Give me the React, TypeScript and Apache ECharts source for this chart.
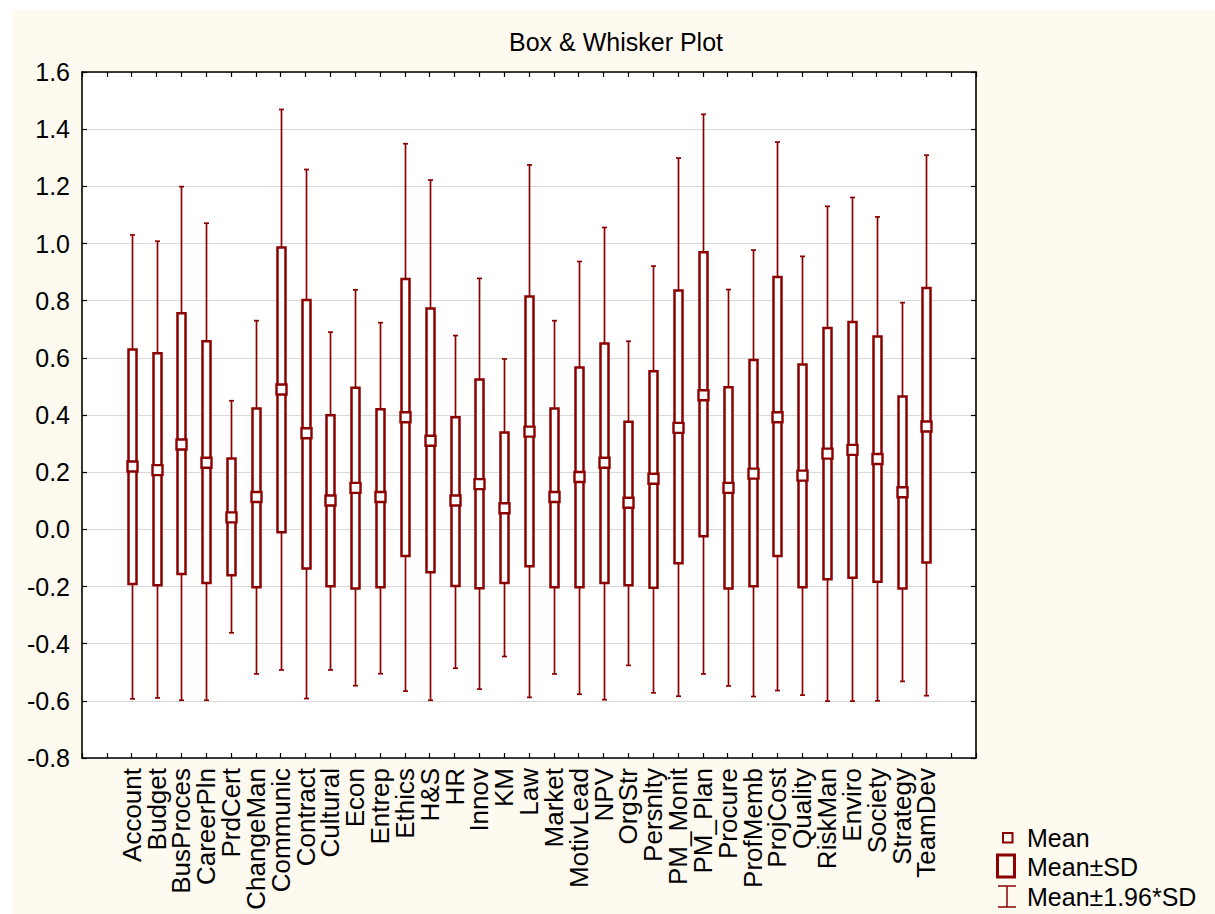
import React, { useEffect, useRef } from "react";
import * as echarts from "echarts";

const categories = [
  "Account", "Budget", "BusProces", "CareerPln", "PrdCert", "ChangeMan", "Communic",
  "Contract", "Cultural", "Econ", "Entrep", "Ethics", "H&S", "HR", "Innov", "KM", "Law",
  "Market", "MotivLead", "NPV", "OrgStr", "Persnlty", "PM_Monit", "PM_Plan", "Procure",
  "ProfMemb", "ProjCost", "Quality", "RiskMan", "Enviro", "Society", "Strategy", "TeamDev",
];

const whiskerHigh = [
  1.030, 1.008, 1.199, 1.071, 0.450, 0.730, 1.469, 1.259, 0.690, 0.838, 0.723, 1.349, 1.222,
  0.678, 0.878, 0.596, 1.275, 0.730, 0.937, 1.056, 0.658, 0.921, 1.299, 1.452, 0.839, 0.977,
  1.355, 0.955, 1.130, 1.161, 1.093, 0.793, 1.309,
];
const boxHigh = [
  0.629, 0.616, 0.756, 0.658, 0.248, 0.423, 0.986, 0.802, 0.399, 0.495, 0.420, 0.876, 0.773,
  0.392, 0.524, 0.339, 0.815, 0.423, 0.566, 0.650, 0.376, 0.553, 0.836, 0.969, 0.497, 0.592,
  0.883, 0.577, 0.704, 0.725, 0.675, 0.465, 0.844,
];
const means = [
  0.220, 0.207, 0.297, 0.233, 0.042, 0.113, 0.489, 0.336, 0.101, 0.145, 0.113, 0.392, 0.310,
  0.101, 0.158, 0.074, 0.342, 0.113, 0.183, 0.233, 0.093, 0.177, 0.355, 0.469, 0.145, 0.195,
  0.392, 0.188, 0.265, 0.278, 0.246, 0.130, 0.360,
];
const boxLow = [
  -0.191, -0.196, -0.156, -0.188, -0.161, -0.203, -0.010, -0.137, -0.199, -0.207, -0.203,
  -0.093, -0.150, -0.198, -0.206, -0.188, -0.129, -0.203, -0.203, -0.188, -0.196, -0.204,
  -0.119, -0.024, -0.207, -0.199, -0.093, -0.203, -0.175, -0.169, -0.183, -0.207, -0.116,
];
const whiskerLow = [
  -0.593, -0.590, -0.598, -0.598, -0.362, -0.506, -0.492, -0.592, -0.492, -0.547, -0.505,
  -0.566, -0.598, -0.486, -0.559, -0.445, -0.588, -0.506, -0.577, -0.596, -0.476, -0.572,
  -0.584, -0.506, -0.548, -0.585, -0.564, -0.580, -0.601, -0.601, -0.600, -0.532, -0.582,
];

const yTicks = { min: -0.8, max: 1.6, step: 0.2 };
const legendLabels = ["Mean", "Mean±SD", "Mean±1.96*SD"];
const titleText = "Box & Whisker Plot";

const RED = "#8b0000";
const FONT = "'Liberation Sans', Arial, sans-serif";
const X_OFFSET = 2; // first category sits on the 2nd tick
const X_MAX = categories.length + 3;

export default function App() {
  const ref = useRef<HTMLDivElement>(null);

  useEffect(() => {
    if (!ref.current) return;
    const chart = echarts.init(ref.current, null, { renderer: "svg" });

    const data = categories.map((_, i) => [
      i + X_OFFSET, whiskerLow[i], boxLow[i], means[i], boxHigh[i], whiskerHigh[i],
    ]);

    const renderItem = (params: any, api: any) => {
      const x = api.value(0);
      const pWL = api.coord([x, api.value(1)]);
      const pBL = api.coord([x, api.value(2)]);
      const pM = api.coord([x, api.value(3)]);
      const pBH = api.coord([x, api.value(4)]);
      const pWH = api.coord([x, api.value(5)]);
      const cx = Math.round(pM[0]) + 0.5;
      const capW = 2.5;
      const boxHalf = 4;
      const meanHalf = 5;
      return {
        type: "group",
        children: [
          {
            type: "line",
            shape: { x1: cx, y1: pWL[1], x2: cx, y2: pWH[1] },
            style: { stroke: RED, lineWidth: 1.7 },
          },
          {
            type: "line",
            shape: { x1: cx - capW, y1: pWL[1], x2: cx + capW, y2: pWL[1] },
            style: { stroke: RED, lineWidth: 1.7 },
          },
          {
            type: "line",
            shape: { x1: cx - capW, y1: pWH[1], x2: cx + capW, y2: pWH[1] },
            style: { stroke: RED, lineWidth: 1.7 },
          },
          {
            type: "rect",
            shape: { x: cx - boxHalf, y: pBH[1], width: boxHalf * 2, height: pBL[1] - pBH[1] },
            style: { stroke: RED, lineWidth: 2.5, fill: "#ffffff" },
          },
          {
            type: "rect",
            shape: { x: cx - meanHalf, y: pM[1] - meanHalf, width: meanHalf * 2, height: meanHalf * 2 },
            style: { stroke: RED, lineWidth: 2.4, fill: "#ffffff" },
          },
        ],
      };
    };

    const axisLineStyle = { color: "#000", width: 1.6 };
    const tickStyle = { color: "#000", width: 1.2 };

    chart.setOption({
      animation: false,
      backgroundColor: "#ffffff",
      grid: {
        left: 82,
        right: 239,
        top: 72,
        bottom: 156,
        show: true,
        backgroundColor: "#ffffff",
        borderWidth: 0,
        containLabel: false,
      },
      xAxis: [
        {
          type: "value",
          min: 0,
          max: X_MAX,
          interval: 1,
          position: "bottom",
          axisLine: { show: true, onZero: false, lineStyle: axisLineStyle },
          axisTick: { show: true, inside: true, length: 5, lineStyle: tickStyle },
          splitLine: { show: false },
          axisLabel: {
            rotate: 90,
            margin: 10,
            fontSize: 26,
            fontFamily: FONT,
            color: "#000",
            showMinLabel: true,
            showMaxLabel: true,
            formatter: (v: number) => categories[Math.round(v) - X_OFFSET] ?? "",
          },
        },
        {
          type: "value",
          min: 0,
          max: X_MAX,
          interval: 1,
          position: "top",
          axisLine: { show: true, onZero: false, lineStyle: axisLineStyle },
          axisTick: { show: true, inside: true, length: 5, lineStyle: tickStyle },
          splitLine: { show: false },
          axisLabel: { show: false },
        },
      ],
      yAxis: [
        {
          type: "value",
          min: yTicks.min,
          max: yTicks.max,
          interval: yTicks.step,
          position: "left",
          axisLine: { show: true, onZero: false, lineStyle: axisLineStyle },
          axisTick: { show: true, inside: true, length: 5, lineStyle: tickStyle },
          splitLine: { show: true, lineStyle: { color: "#d9d9d9", width: 1 } },
          axisLabel: {
            margin: 12,
            fontSize: 25,
            fontFamily: FONT,
            color: "#000",
            formatter: (v: number) => v.toFixed(1),
          },
        },
        {
          type: "value",
          min: yTicks.min,
          max: yTicks.max,
          interval: yTicks.step,
          position: "right",
          axisLine: { show: true, onZero: false, lineStyle: axisLineStyle },
          axisTick: { show: true, inside: true, length: 5, lineStyle: tickStyle },
          splitLine: { show: false },
          axisLabel: { show: false },
        },
      ],
      graphic: [
        {
          type: "rect",
          z: -10,
          silent: true,
          shape: { x: 12, y: 10, width: 1215 - 12, height: 914 - 10 },
          style: { fill: "#fefaf0" },
        },
        {
          type: "text",
          x: 616,
          y: 42,
          style: {
            text: titleText,
            font: `25px ${FONT}`,
            fill: "#000",
            textAlign: "center",
            textVerticalAlign: "middle",
          },
        },
        {
          type: "rect",
          shape: { x: 1003, y: 833, width: 9.5, height: 9.5 },
          style: { stroke: RED, lineWidth: 2, fill: "none" },
        },
        {
          type: "rect",
          shape: { x: 997.5, y: 855, width: 17, height: 22 },
          style: { stroke: RED, lineWidth: 3, fill: "none" },
        },
        {
          type: "line",
          shape: { x1: 1007, y1: 886, x2: 1007, y2: 907 },
          style: { stroke: RED, lineWidth: 1.5 },
        },
        {
          type: "line",
          shape: { x1: 998, y1: 886, x2: 1016, y2: 886 },
          style: { stroke: RED, lineWidth: 1.5 },
        },
        {
          type: "line",
          shape: { x1: 998, y1: 907, x2: 1016, y2: 907 },
          style: { stroke: RED, lineWidth: 1.5 },
        },
        ...legendLabels.map((t, i) => ({
          type: "text",
          x: 1027,
          y: [838, 867, 897][i],
          style: {
            text: t,
            font: `25px ${FONT}`,
            fill: "#000",
            textAlign: "left",
            textVerticalAlign: "middle",
          },
        })),
      ],
      series: [
        {
          type: "custom",
          xAxisIndex: 0,
          yAxisIndex: 0,
          renderItem,
          encode: { x: 0, y: [1, 2, 3, 4, 5] },
          data,
          z: 5,
        },
      ],
    });

    return () => chart.dispose();
  }, []);

  return (
    <div
      ref={ref}
      style={{ position: "absolute", left: 0, top: 0, width: 1215, height: 914 }}
    />
  );
}
